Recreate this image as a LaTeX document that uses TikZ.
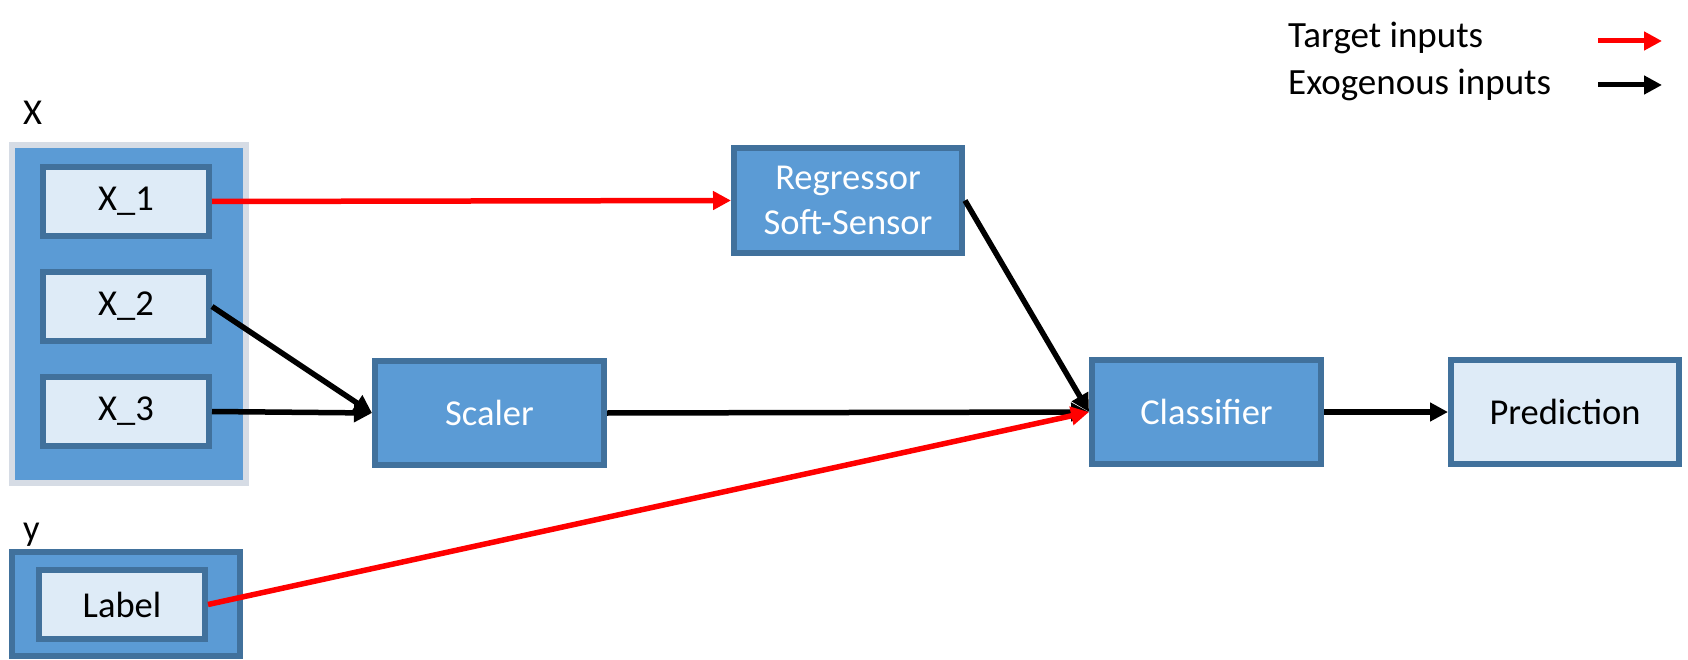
\documentclass[tikz,border=0pt]{standalone}
\usepackage{fontspec}
\setmainfont{Carlito}
\usetikzlibrary{arrows.meta}
\definecolor{bluefill}{HTML}{5B9BD5}
\definecolor{blueline}{HTML}{41719C}
\definecolor{lightfill}{HTML}{DEEBF7}
\definecolor{grayline}{HTML}{D6DCE5}
\definecolor{redline}{HTML}{FF0000}
\tikzset{
  boxtext/.style={font=\fontsize{36.5}{45}\selectfont, align=center},
  lightbox/.style={draw=blueline, fill=lightfill, line width=6pt, inner sep=0pt, boxtext, text=black},
  bluebox/.style={draw=blueline, fill=bluefill, line width=6pt, inner sep=0pt, boxtext, text=white},
  groupbox/.style={fill=bluefill, line width=6pt, inner sep=0pt},
  arr/.style={line width=5.5pt, -{Triangle[length=18pt,width=18pt]}},
  redarr/.style={arr, draw=redline},
  blackarr/.style={arr, draw=black},
  legtext/.style={font=\fontsize{37}{44}\selectfont, anchor=base west, inner sep=0pt},
  grouplabel/.style={font=\fontsize{36.5}{42}\selectfont, anchor=base west, inner sep=0pt}
}
\begin{document}
\begin{tikzpicture}[x=1pt, y=-1pt]
\useasboundingbox (0,0) rectangle (1688,660);
% group boxes
\node[groupbox, draw=grayline, minimum width=234pt, minimum height=338pt] (xgroup) at (129,314) {};
\node[groupbox, draw=blueline, minimum width=228pt, minimum height=104pt] (ygroup) at (126,604) {};
\node[grouplabel] (xlab) at (23,125) {X};
\node[grouplabel] (ylab) at (23,540) {y};
% inner boxes
\node[lightbox, minimum width=166pt, minimum height=69pt] (x1) at (126,201.5) {X\_1};
\node[lightbox, minimum width=166pt, minimum height=69pt] (x2) at (126,306.5) {X\_2};
\node[lightbox, minimum width=166pt, minimum height=69pt] (x3) at (126,411.5) {X\_3};
\node[lightbox, minimum width=166pt, minimum height=69pt] (label) at (122,604.5) {Label};
% process boxes
\node[bluebox, minimum width=228pt, minimum height=105pt] (reg) at (848,200.5) {Regressor\\Soft-Sensor};
\node[bluebox, minimum width=229pt, minimum height=104pt] (scaler) at (489.5,413) {Scaler};
\node[bluebox, minimum width=229pt, minimum height=104pt] (clf) at (1206.5,412) {Classifier};
\node[lightbox, minimum width=228pt, minimum height=104pt] (pred) at (1565,412) {Prediction};
% connectors
\draw[redarr] (x1.east) -- (reg.west);
\draw[blackarr] (x2.east) -- (scaler.west);
\draw[blackarr] (x3.east) -- (scaler.west);
\draw[blackarr] (scaler.east) -- (clf.west);
\draw[blackarr] (reg.east) -- (clf.west);
\draw[redarr] (label.east) -- (clf.west);
\draw[blackarr] (clf.east) -- (pred.west);
% legend
\node[legtext] (lt) at (1288,48) {Target inputs};
\node[legtext] (le) at (1288,95) {Exogenous inputs};
\coordinate (lts) at (1598,41);
\coordinate (lte) at (1662,41);
\coordinate (les) at (1598,85);
\coordinate (lee) at (1662,85);
\draw[redarr, line width=5pt] (lts) -- (lte);
\draw[blackarr, line width=5pt] (les) -- (lee);
\end{tikzpicture}
\end{document}
